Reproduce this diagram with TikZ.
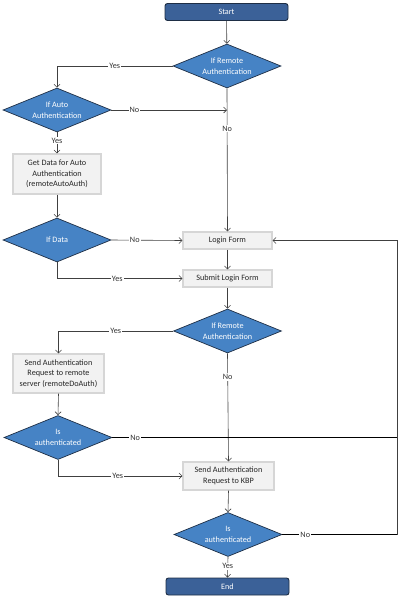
\documentclass[tikz,border=0pt]{standalone}
\usepackage{fontspec}
\setmainfont{Carlito}
\usetikzlibrary{shapes.geometric,arrows.meta}
\definecolor{termfill}{HTML}{3B6198}
\definecolor{decfill}{HTML}{4683C5}
\definecolor{darkedge}{HTML}{1E2E45}
\definecolor{boxfill}{HTML}{F2F2F2}
\definecolor{boxedge}{HTML}{D6D6D6}
\definecolor{linecol}{HTML}{404040}
\begin{document}
\begin{tikzpicture}[x=1pt,y=-1pt,
  every node/.style={font=\fontsize{8.2}{10.5}\selectfont},
  term/.style={draw=darkedge,line width=0.9pt,fill=termfill,text=white,rounded corners=2.5pt,minimum width=123pt,minimum height=17pt,inner sep=0pt},
  dec/.style={diamond,draw=darkedge,line width=0.7pt,fill=decfill,text=white,minimum width=108pt,minimum height=44pt,inner sep=0pt,align=center,aspect=2.45},
  proc/.style={draw=boxedge,line width=1.2pt,fill=boxfill,text=black!85,inner sep=0pt,align=center},
  flow/.style={draw=linecol,line width=0.6pt,-{Straight Barb[length=3pt,width=6pt]}},
  plain/.style={draw=black,line width=0.8pt},
  lbl/.style={fill=white,inner sep=1pt,text=black!80}]
\useasboundingbox (0,0) rectangle (400,598);

\node[term] (start) at (226.5,12) {Start};
\node[dec] (d1) at (227,66) {If Remote\\Authentication};
\node[dec] (d2) at (57,110) {If Auto\\Authentication};
\node[proc,minimum width=88pt,minimum height=40pt] (b1) at (57,174) {Get Data for Auto\\Authentication\\(remoteAutoAuth)};
\node[dec] (d3) at (57,240) {If Data};
\node[proc,minimum width=89pt,minimum height=17pt] (login) at (227.5,240.5) {Login Form};
\node[proc,minimum width=89pt,minimum height=17pt] (submit) at (227.5,278.5) {Submit Login Form};
\node[dec] (d4) at (227.5,331) {If Remote\\Authentication};
\node[proc,minimum width=91pt,minimum height=39pt] (b2) at (58.5,373.5) {Send Authentication\\Request to remote\\server (remoteDoAuth)};
\node[dec] (d5) at (58,437.5) {Is\\authenticated};
\node[proc,minimum width=91pt,minimum height=28pt] (b3) at (228.5,476) {Send Authentication\\Request to KBP};
\node[dec] (d6) at (228,534.5) {Is\\authenticated};
\node[term] (end) at (227.5,586.5) {End};

\coordinate (j1) at (227,110);
\coordinate (r1) at (397,437.5);
\coordinate (r2) at (397,534.5);
\coordinate (r3) at (397,240.5);

% start -> d1
\draw[flow] (start) -- (d1);
% d1 yes -> d2
\draw[flow] (d1.west) -- (d2.north |- d1.west) node[lbl,pos=0.5] {Yes} -- (d2.north);
% d2 no -> junction
\draw[flow] (d2.east) -- node[lbl,pos=0.2] {No} (j1);
% d1 no -> login
\draw[flow] (d1.south) -- node[lbl,pos=0.28] {No} (login.north);
% d2 yes -> b1
\draw[flow] (d2.south) -- node[lbl,pos=0.4] {Yes} (b1.north);
% b1 -> d3
\draw[flow] (b1.south) -- (d3.north);
% d3 no -> login
\draw[flow] (d3.east) -- node[lbl,pos=0.33] {No} (login.west);
% d3 yes -> submit
\draw[flow] (d3.south) |- node[lbl,pos=0.74] {Yes} (submit.west);
% login -> submit
\draw[flow] (login.south) -- (submit.north);
% submit -> d4
\draw[flow] (submit.south) -- (d4.north);
% d4 yes -> b2
\draw[flow] (d4.west) -- (b2.north |- d4.west) node[lbl,pos=0.5] {Yes} -- (b2.north);
% d4 no -> b3
\draw[flow] (d4.south) -- node[lbl,pos=0.22] {No} (b3.north);
% b2 -> d5
\draw[flow] (b2.south) -- (d5.north);
% d5 no -> right rail
\draw[plain] (d5.east) -- node[lbl,pos=0.08] {No} (r1);
% d5 yes -> b3
\draw[flow] (d5.south) |- node[lbl,pos=0.74] {Yes} (b3.west);
% b3 -> d6
\draw[flow] (b3.south) -- (d6.north);
% d6 no -> login
\draw[plain] (d6.east) -- node[lbl,pos=0.2] {No} (r2);
\draw[flow] (r2) -- (r3) -- (login.east);
% d6 yes -> end
\draw[flow] (d6.south) -- node[lbl,pos=0.45] {Yes} (end.north);
\end{tikzpicture}
\end{document}
